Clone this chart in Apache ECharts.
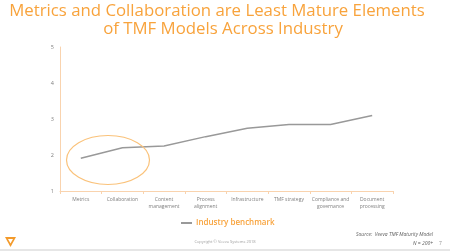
<!DOCTYPE html>
<html><head><meta charset="utf-8">
<script src="https://cdn.jsdelivr.net/npm/echarts@6/dist/echarts.min.js"></script>
<style>html,body{margin:0;padding:0;background:#fff}#c{width:450px;height:251px}</style>
</head><body><div id="c"></div>
<script>
const categories = ["Metrics","Collaboration","Content\nmanagement","Process\nalignment","Infrastructure","TMF strategy","Compliance and\ngovernance","Document\nprocessing"];
const benchmark = [1.91, 2.20, 2.25, 2.51, 2.74, 2.85, 2.85, 3.10];
const yTicks = [1, 2, 3, 4, 5];
const seriesName = "Industry benchmark";

const chart = echarts.init(document.getElementById('c'), null, {renderer:'canvas'});
const orange = '#F8A33C';
const titleStyle = {color:orange, fontFamily:'Open Sans', fontWeight:'normal', fontSize:16.8};
chart.setOption({
  animation:false,
  title:[
    {text:'Metrics and Collaboration are Least Mature Elements', left:217, top:3, textAlign:'center', padding:0, textStyle:titleStyle},
    {text:'of TMF Models Across Industry', left:223, top:21, textAlign:'center', padding:0, textStyle:titleStyle}
  ],
  legend:{
    data:[seriesName], left:176, top:214, itemWidth:11, itemHeight:2, itemGap:2,
    icon:'rect',
    textStyle:{color:orange, fontFamily:'Open Sans', fontSize:8, fontWeight:600, padding:[0,0,0,-1]}
  },
  grid:{left:60, right:57, top:47, bottom:60},
  xAxis:{
    type:'category', data:categories, boundaryGap:true,
    axisLine:{lineStyle:{color:'#F9D3AE', width:1}},
    axisTick:{show:true, length:3, lineStyle:{color:'#F9D3AE'}},
    axisLabel:{color:'#808080', fontSize:5, fontFamily:'Open Sans', interval:0, margin:5, lineHeight:7}
  },
  yAxis:{
    type:'value', min:yTicks[0], max:yTicks[yTicks.length-1], interval:1,
    axisLine:{show:true, lineStyle:{color:'#F9D3AE', width:1}},
    axisTick:{show:false},
    splitLine:{show:false},
    axisLabel:{color:'#808080', fontSize:5.5, fontFamily:'Open Sans', margin:6}
  },
  series:[{
    name:seriesName, type:'line', data:benchmark, symbol:'none',
    lineStyle:{color:'#999999', width:1.5}, itemStyle:{color:'#999999'}
  }],
  graphic:[
    {type:'ellipse', shape:{cx:108, cy:160, rx:41.5, ry:24.5}, style:{fill:null, stroke:'#FAC27A', lineWidth:1.2}, z:10},
    {type:'text', left:'center', top:240, style:{text:'Copyright © Veeva Systems 2018', fill:'#a0a0a0', font:'4px Open Sans'}},
    {type:'text', right:17, top:232, style:{text:'Source:  Veeva TMF Maturity Model', fill:'#606060', font:'italic 5px Open Sans', align:'right'}},
    {type:'text', right:17, top:241, style:{text:'N = 200+', fill:'#606060', font:'italic 5px Open Sans', align:'right'}},
    {type:'text', left:439, top:241, style:{text:'7', fill:'#909090', font:'5px Open Sans'}},
    {type:'polygon', shape:{points:[[5,237],[16,237],[10.5,247]]}, style:{fill:'#F39A2B'}},
    {type:'polygon', shape:{points:[[8,239],[13,239],[10.5,243.5]]}, style:{fill:'#ffffff'}},
    {type:'rect', shape:{x:0, y:249, width:450, height:2}, style:{fill:'#e6e6e6'}}
  ]
});
</script></body></html>
